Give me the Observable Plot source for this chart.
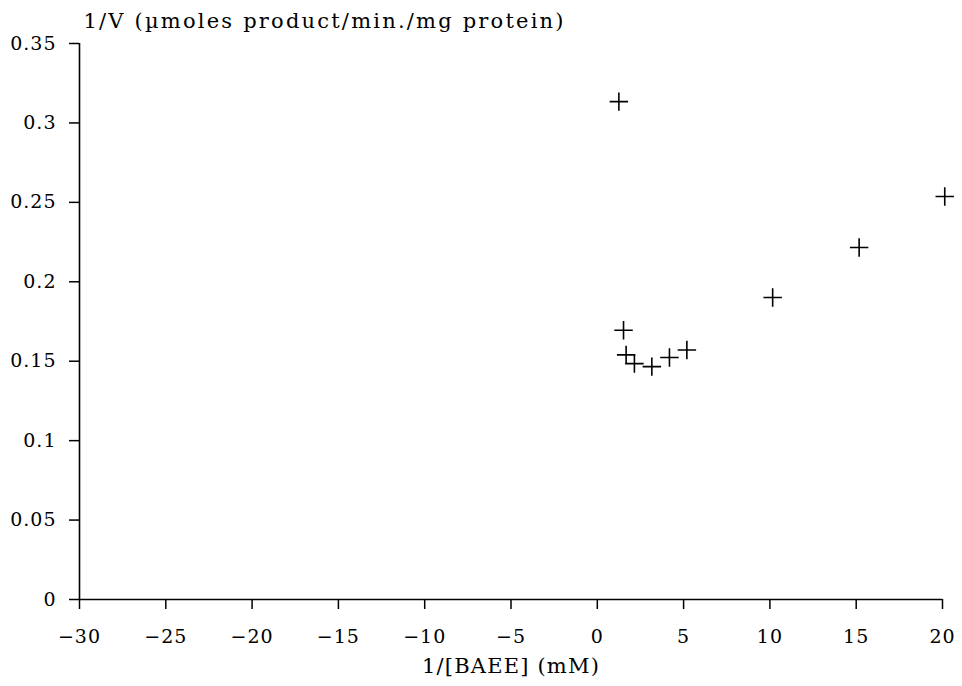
<!DOCTYPE html>
<html>
<head>
<meta charset="utf-8">
<script src="https://cdn.jsdelivr.net/npm/d3@7"></script>
<script src="https://cdn.jsdelivr.net/npm/@observablehq/plot@0.6"></script>
<style>
  html, body { margin: 0; padding: 0; background: #fff; }
  #chart svg { display: block; }
  #chart svg text { letter-spacing: 1px; }
  #chart svg g.ytitle text { letter-spacing: 2.2px; }
  #chart svg g.xtitle text { letter-spacing: 1.2px; }
</style>
</head>
<body>
<div id="chart"></div>
<script>
// Lineweaver-Burk style data
const invS = [1.25, 1.52, 1.67, 2.15, 3.16, 4.18, 5.19, 10.16, 15.17, 20.13];
const invV = [0.3134, 0.1695, 0.154, 0.1485, 0.1466, 0.1523, 0.1571, 0.1901, 0.2216, 0.2537];
const xTicks = [-30, -25, -20, -15, -10, -5, 0, 5, 10, 15, 20];
const yTicks = [0, 0.05, 0.1, 0.15, 0.2, 0.25, 0.3, 0.35];
const yTitle = "1/V (µmoles product/min./mg protein)";
const xTitle = "1/[BAEE] (mM)";

const points = invS.map((x, i) => ({x, y: invV[i]}));
const font = "'DejaVu Serif', serif";

const chart = Plot.plot({
  width: 962,
  height: 686,
  marginLeft: 79,
  marginRight: 20,
  marginTop: 43,
  marginBottom: 87,
  style: {fontFamily: font, fontSize: "19px", color: "#000", background: "#fff"},
  x: {domain: [-30, 20]},
  y: {domain: [0, 0.35]},
  marks: [
    Plot.ruleY([0], {stroke: "#000", strokeWidth: 1.6}),
    Plot.ruleX([-30], {y1: 0, y2: 0.35, stroke: "#000", strokeWidth: 1.6}),
    Plot.axisX({ticks: xTicks, tickSize: 10, tickPadding: 20, tickFormat: d => d < 0 ? "\u2212" + Math.abs(d) : String(d), label: null, strokeWidth: 1.5, fontSize: 19}),
    Plot.axisY({ticks: yTicks, tickSize: 10, tickPadding: 13, tickFormat: d => String(d), label: null, strokeWidth: 1.5, fontSize: 19}),
    Plot.dot(points, {x: "x", y: "y", symbol: "plus", r: 6, stroke: "#000", strokeWidth: 1.6}),
    Plot.text([yTitle], {className: "ytitle", frameAnchor: "top-left", text: d => d, textAnchor: "start", lineAnchor: "middle", dx: 4, dy: -22, fontSize: 21}),
    Plot.text([xTitle], {className: "xtitle", frameAnchor: "bottom", text: d => d, lineAnchor: "middle", dy: 67, fontSize: 21})
  ]
});
document.getElementById("chart").appendChild(chart);
</script>
</body>
</html>
